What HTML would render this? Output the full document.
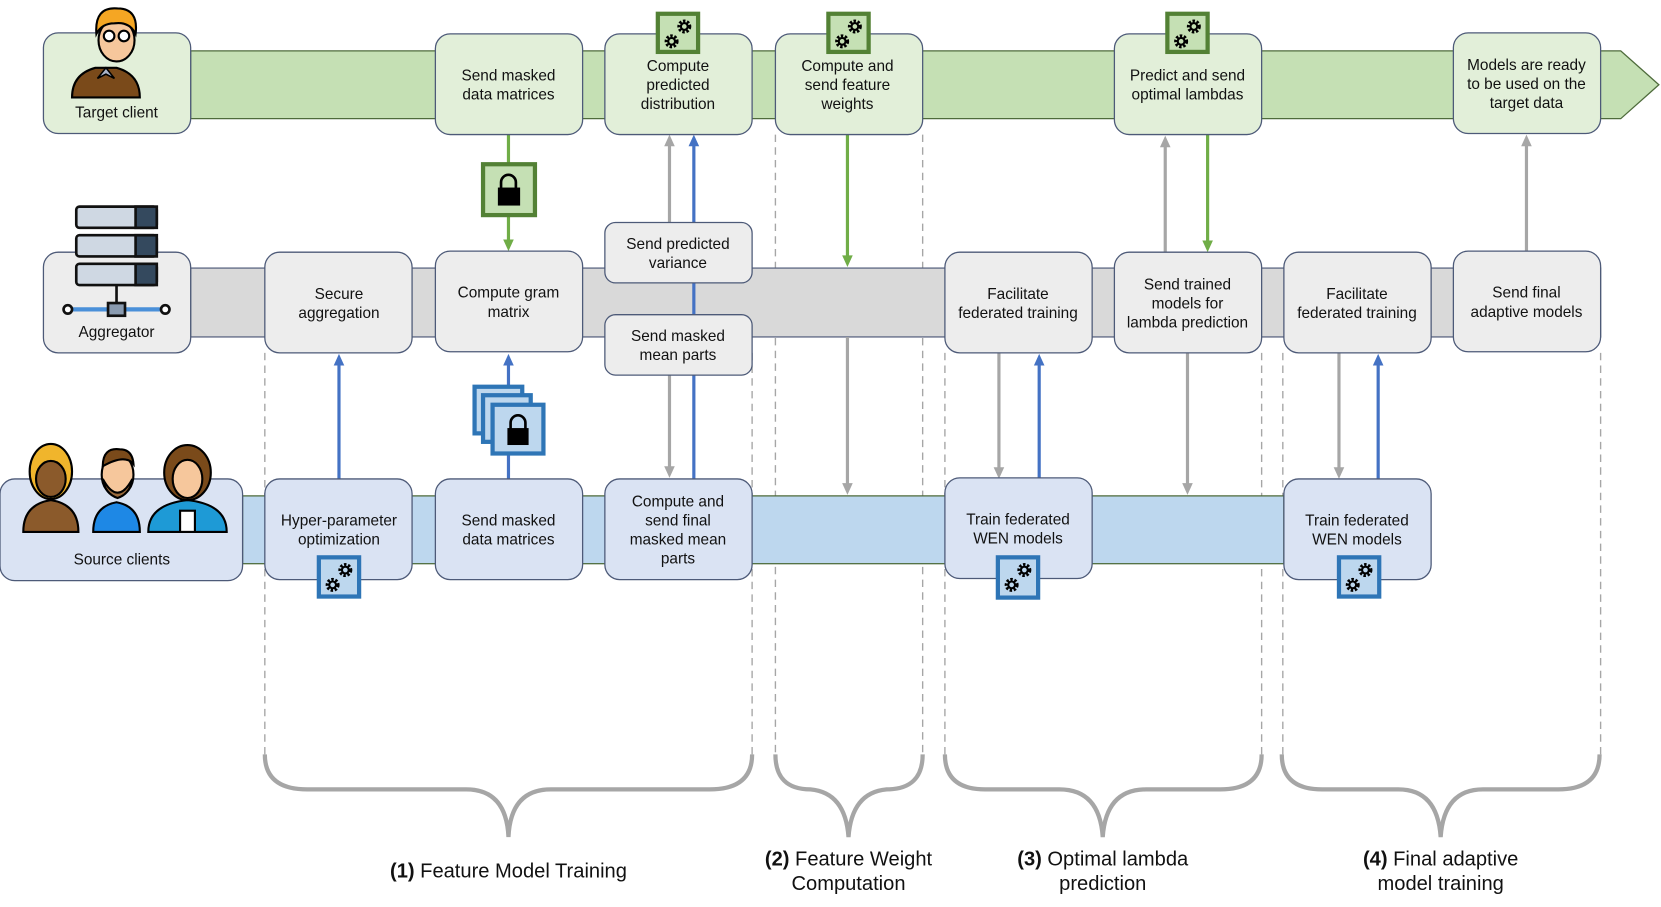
<!DOCTYPE html>
<html><head><meta charset="utf-8"><style>
html,body{margin:0;padding:0;background:#fff;}
svg{display:block;}
text{font-family:"Liberation Sans",Arial,sans-serif;font-size:14.5px;fill:#111;text-anchor:middle;}
text.big{font-size:19px;}
</style></head><body>
<svg width="1661" height="907" viewBox="0 0 1568 856" preserveAspectRatio="none" xmlns="http://www.w3.org/2000/svg">
<defs>
<g id="gear"><circle cx="0" cy="0" r="5" fill="none" stroke="#000" stroke-width="3.2" stroke-dasharray="2.2 1.5"/><circle cx="0" cy="0" r="3.2" fill="none" stroke="#000" stroke-width="2"/></g>
</defs>

<g stroke="#a6a6a6" stroke-width="1.3" stroke-dasharray="7 5" fill="none">
<line x1="250" y1="333" x2="250" y2="712"/>
<line x1="710" y1="333" x2="710" y2="712"/>
<line x1="732" y1="127" x2="732" y2="712"/>
<line x1="871" y1="127" x2="871" y2="712"/>
<line x1="892" y1="333" x2="892" y2="712"/>
<line x1="1191" y1="333" x2="1191" y2="712"/>
<line x1="1211" y1="333" x2="1211" y2="712"/>
<line x1="1511" y1="333" x2="1511" y2="712"/>
</g>

<path d="M180,48 L1530,48 L1566,80 L1530,112 L180,112z" fill="#c5e0b4" stroke="#4e6b3b" stroke-width="1.2"/>
<rect x="180" y="253" width="1331" height="65" fill="#d9d9d9" stroke="#5a6480" stroke-width="1.2"/>
<rect x="229" y="468" width="983" height="64" fill="#bdd7ee" stroke="#4e6b3b" stroke-width="1.2"/>

<g stroke-width="3" fill="none">
<line x1="480" y1="127" x2="480" y2="228" stroke="#70ad47"/>
<line x1="632" y1="210" x2="632" y2="136" stroke="#a6a6a6"/>
<line x1="632" y1="354" x2="632" y2="442" stroke="#a6a6a6"/>
<line x1="655" y1="452" x2="655" y2="136" stroke="#4472c4"/>
<line x1="320" y1="452" x2="320" y2="343" stroke="#4472c4"/>
<line x1="480" y1="452" x2="480" y2="343" stroke="#4472c4"/>
<line x1="800" y1="127" x2="800" y2="243" stroke="#70ad47"/>
<line x1="800" y1="318" x2="800" y2="458" stroke="#a6a6a6"/>
<line x1="943" y1="333" x2="943" y2="443" stroke="#a6a6a6"/>
<line x1="981" y1="451" x2="981" y2="343" stroke="#4472c4"/>
<line x1="1100" y1="238" x2="1100" y2="137" stroke="#a6a6a6"/>
<line x1="1140" y1="127" x2="1140" y2="229" stroke="#70ad47"/>
<line x1="1121" y1="333" x2="1121" y2="458" stroke="#a6a6a6"/>
<line x1="1264" y1="333" x2="1264" y2="443" stroke="#a6a6a6"/>
<line x1="1301" y1="452" x2="1301" y2="343" stroke="#4472c4"/>
<line x1="1441" y1="237" x2="1441" y2="136" stroke="#a6a6a6"/>
</g>
<g>
<polygon points="475,226 485,226 480,237" fill="#70ad47"/>
<polygon points="795,241 805,241 800,252" fill="#70ad47"/>
<polygon points="1135,227 1145,227 1140,238" fill="#70ad47"/>
<polygon points="627,440 637,440 632,451" fill="#a6a6a6"/>
<polygon points="795,456 805,456 800,467" fill="#a6a6a6"/>
<polygon points="938,441 948,441 943,452" fill="#a6a6a6"/>
<polygon points="1116,456 1126,456 1121,467" fill="#a6a6a6"/>
<polygon points="1259,441 1269,441 1264,452" fill="#a6a6a6"/>
<polygon points="627,138 637,138 632,127" fill="#a6a6a6"/>
<polygon points="650,138 660,138 655,127" fill="#4472c4"/>
<polygon points="315,345 325,345 320,334" fill="#4472c4"/>
<polygon points="475,345 485,345 480,334" fill="#4472c4"/>
<polygon points="976,345 986,345 981,334" fill="#4472c4"/>
<polygon points="1095,139 1105,139 1100,128" fill="#a6a6a6"/>
<polygon points="1296,345 1306,345 1301,334" fill="#4472c4"/>
<polygon points="1436,138 1446,138 1441,127" fill="#a6a6a6"/>
</g>

<g fill="#e2efd9" stroke="#4d5a78" stroke-width="1.2">
<rect x="41" y="31" width="139" height="95" rx="14"/>
<rect x="411" y="32" width="139" height="95" rx="14"/>
<rect x="571" y="32" width="139" height="95" rx="14"/>
<rect x="732" y="32" width="139" height="95" rx="14"/>
<rect x="1052" y="32" width="139" height="95" rx="14"/>
<rect x="1372" y="31" width="139" height="95" rx="14"/>
</g>
<g fill="#ededed" stroke="#4d5a78" stroke-width="1.2">
<rect x="41" y="238" width="139" height="95" rx="14"/>
<rect x="250" y="238" width="139" height="95" rx="14"/>
<rect x="411" y="237" width="139" height="95" rx="14"/>
<rect x="571" y="210" width="139" height="57" rx="10"/>
<rect x="571" y="297" width="139" height="57" rx="10"/>
<rect x="892" y="238" width="139" height="95" rx="14"/>
<rect x="1052" y="238" width="139" height="95" rx="14"/>
<rect x="1212" y="238" width="139" height="95" rx="14"/>
<rect x="1372" y="237" width="139" height="95" rx="14"/>
</g>
<g fill="#dae3f3" stroke="#4d5a78" stroke-width="1.2">
<rect x="0" y="452" width="229" height="96" rx="14"/>
<rect x="250" y="452" width="139" height="95" rx="14"/>
<rect x="411" y="452" width="139" height="95" rx="14"/>
<rect x="571" y="452" width="139" height="95" rx="14"/>
<rect x="892" y="451" width="139" height="95" rx="14"/>
<rect x="1212" y="452" width="139" height="95" rx="14"/>
</g>

<rect x="456" y="155" width="49" height="48" fill="#c5e0b4" stroke="#538135" stroke-width="4"/>
<path d="M473,178 v-6 a7,7 0 0 1 14,0 v6" fill="none" stroke="#000" stroke-width="2.5"/>
<rect x="470" y="177" width="21" height="17" fill="#000"/>
<g stroke="#2e75b6" stroke-width="4" fill="#bdd7ee">
<rect x="448" y="365" width="45" height="44"/>
<rect x="456" y="373" width="45" height="44"/>
<rect x="465" y="382" width="48" height="46"/>
</g>
<path d="M482,405 v-6 a7,7 0 0 1 14,0 v6" fill="none" stroke="#000" stroke-width="2.5"/>
<rect x="479" y="404" width="20" height="16" fill="#000"/>

<g stroke-width="4">
<rect x="621" y="13" width="38" height="36" fill="#c5e0b4" stroke="#538135"/>
<rect x="782" y="13" width="38" height="36" fill="#c5e0b4" stroke="#538135"/>
<rect x="1102" y="13" width="38" height="36" fill="#c5e0b4" stroke="#538135"/>
<rect x="301" y="526" width="38" height="37" fill="#bdd7ee" stroke="#2e75b6"/>
<rect x="942" y="526" width="38" height="38" fill="#bdd7ee" stroke="#2e75b6"/>
<rect x="1264" y="526" width="38" height="37" fill="#bdd7ee" stroke="#2e75b6"/>
</g>
<use href="#gear" x="646" y="25"/><use href="#gear" x="634" y="39"/>
<use href="#gear" x="807" y="25"/><use href="#gear" x="795" y="39"/>
<use href="#gear" x="1127" y="25"/><use href="#gear" x="1115" y="39"/>
<use href="#gear" x="326" y="538"/><use href="#gear" x="314" y="552"/>
<use href="#gear" x="967" y="538"/><use href="#gear" x="955" y="552"/>
<use href="#gear" x="1289" y="538"/><use href="#gear" x="1277" y="552"/>

<path d="M68,92 q0,-22 22,-28 l20,0 q22,6 22,28z" fill="#7a4a1a" stroke="#000" stroke-width="2"/>
<path d="M100,64 l-8,10 l8,-4 l8,4z" fill="#aab4c8" stroke="#000" stroke-width="1.5"/>
<ellipse cx="110" cy="38" rx="17" ry="20" fill="#f6c79c" stroke="#000" stroke-width="2"/>
<path d="M91,32 q-2,-26 20,-24 q20,0 17,24 q-6,-12 -20,-10 q-12,0 -17,10z" fill="#f5a623" stroke="#000" stroke-width="2"/>
<circle cx="103" cy="34" r="5" fill="#fff" stroke="#000" stroke-width="2"/><circle cx="117" cy="34" r="5" fill="#fff" stroke="#000" stroke-width="2"/>

<g stroke="#111" stroke-width="2.5">
<rect x="72" y="195" width="76" height="20" rx="3" fill="#cfd8e3"/>
<rect x="72" y="222" width="76" height="20" rx="3" fill="#cfd8e3"/>
<rect x="72" y="249" width="76" height="20" rx="3" fill="#cfd8e3"/>
<rect x="128" y="195" width="20" height="20" fill="#34495e"/>
<rect x="128" y="222" width="20" height="20" fill="#34495e"/>
<rect x="128" y="249" width="20" height="20" fill="#34495e"/>
<line x1="110" y1="269" x2="110" y2="290"/>
<line x1="64" y1="292" x2="156" y2="292" stroke="#4a90d9" stroke-width="4"/>
<circle cx="64" cy="292" r="4" fill="#fff"/><circle cx="156" cy="292" r="4" fill="#fff"/>
<rect x="102" y="286" width="16" height="12" fill="#8a9bb0"/>
</g>

<g stroke="#000" stroke-width="2">
<path d="M22,502 q0,-26 26,-30 q26,4 26,30z" fill="#8b5a2b"/>
<ellipse cx="48" cy="445" rx="20" ry="26" fill="#f0b52c"/>
<ellipse cx="48" cy="452" rx="14" ry="17" fill="#8b5a2b"/>
<path d="M88,502 q0,-24 22,-28 q22,4 22,28z" fill="#1e88e5"/>
<ellipse cx="111" cy="448" rx="15" ry="20" fill="#f6c79c"/>
<path d="M97,452 q14,26 28,0 q-2,14 -14,18 q-12,-4 -14,-18z" fill="#9a6a3c"/>
<path d="M97,440 q0,-18 16,-16 q12,0 13,14 q-8,-10 -29,2z" fill="#7a4a1a"/>
<path d="M140,502 q0,-26 37,-30 q37,4 37,30z" fill="#1e9ad6"/>
<rect x="170" y="482" width="14" height="20" fill="#fff"/>
<ellipse cx="177" cy="446" rx="22" ry="26" fill="#7a4a1a"/>
<ellipse cx="177" cy="452" rx="14" ry="18" fill="#f6c79c"/>
</g>

<g fill="none" stroke="#a6a6a6" stroke-width="4">
<path d="M250,712 Q250,745 290,745 L440,745 Q478,745 480,790 Q482,745 520,745 L670,745 Q710,745 710,712"/>
<path d="M732,712 Q732,745 765,745 Q798,748 801,790 Q804,748 837,745 Q871,745 871,712"/>
<path d="M892,712 Q892,745 930,745 L1000,745 Q1038,745 1041,790 Q1044,745 1082,745 L1152,745 Q1191,745 1191,712"/>
<path d="M1210,712 Q1210,745 1248,745 L1320,745 Q1357,745 1360,790 Q1363,745 1400,745 L1471,745 Q1510,745 1510,712"/>
</g>

<text x="110" y="111">Target client</text>
<text x="480" y="76">Send masked</text><text x="480" y="94">data matrices</text>
<text x="640" y="67">Compute</text><text x="640" y="85">predicted</text><text x="640" y="103">distribution</text>
<text x="800" y="67">Compute and</text><text x="800" y="85">send feature</text><text x="800" y="103">weights</text>
<text x="1121" y="76">Predict and send</text><text x="1121" y="94">optimal lambdas</text>
<text x="1441" y="66">Models are ready</text><text x="1441" y="84">to be used on the</text><text x="1441" y="102">target data</text>

<text x="110" y="318">Aggregator</text>
<text x="320" y="282">Secure</text><text x="320" y="300">aggregation</text>
<text x="480" y="281">Compute gram</text><text x="480" y="299">matrix</text>
<text x="640" y="235">Send  predicted</text><text x="640" y="253">variance</text>
<text x="640" y="322">Send masked</text><text x="640" y="340">mean parts</text>
<text x="961" y="282">Facilitate</text><text x="961" y="300">federated training</text>
<text x="1121" y="273">Send trained</text><text x="1121" y="291">models for</text><text x="1121" y="309">lambda prediction</text>
<text x="1281" y="282">Facilitate</text><text x="1281" y="300">federated training</text>
<text x="1441" y="281">Send final</text><text x="1441" y="299">adaptive models</text>

<text x="115" y="533">Source clients</text>
<text x="320" y="496">Hyper-parameter</text><text x="320" y="514">optimization</text>
<text x="480" y="496">Send masked</text><text x="480" y="514">data matrices</text>
<text x="640" y="478">Compute and</text><text x="640" y="496">send final</text><text x="640" y="514">masked mean</text><text x="640" y="532">parts</text>
<text x="961" y="495">Train federated</text><text x="961" y="513">WEN models</text>
<text x="1281" y="496">Train federated</text><text x="1281" y="514">WEN models</text>

<text class="big" x="480" y="828"><tspan font-weight="bold">(1)</tspan> Feature Model Training</text>
<text class="big" x="801" y="817"><tspan font-weight="bold">(2)</tspan> Feature Weight</text><text class="big" x="801" y="840">Computation</text>
<text class="big" x="1041" y="817"><tspan font-weight="bold">(3)</tspan> Optimal lambda</text><text class="big" x="1041" y="840">prediction</text>
<text class="big" x="1360" y="817"><tspan font-weight="bold">(4)</tspan> Final adaptive</text><text class="big" x="1360" y="840">model training</text>
</svg>
</body></html>
